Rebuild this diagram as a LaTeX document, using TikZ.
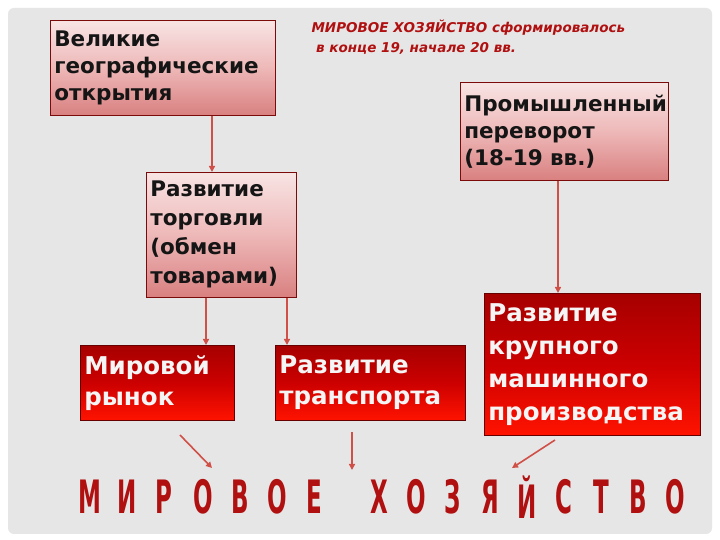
\documentclass[tikz,border=0pt]{standalone}
\usepackage{fontspec}
\setmainfont{DejaVu Sans}
\usetikzlibrary{arrows.meta}
\definecolor{bg}{HTML}{E6E6E6}
\definecolor{tred}{HTML}{B01010}
\definecolor{arr}{HTML}{D05048}
\definecolor{tx}{HTML}{151515}
\definecolor{ltop}{HTML}{F8E4E4}
\definecolor{lmid}{HTML}{EEB8B8}
\definecolor{lbot}{HTML}{D98080}
\tikzset{
 lightbox/.style={draw=tred!70!black,line width=0.6pt,top color=ltop,bottom color=lbot,middle color=lmid,inner sep=3pt,align=left,font=\fontsize{21.5}{27}\selectfont\bfseries,text=tx,anchor=north west},
 darkbox/.style={draw=red!40!black,line width=0.6pt,top color=red!65!black,bottom color=red!85!orange,middle color=red!80!black,inner sep=3pt,align=left,font=\fontsize{24.5}{31}\selectfont\bfseries,text=white!92!gray,anchor=north west},
 conn/.style={-{Triangle[length=6pt,width=6pt]},arr,line width=1.6pt},
 big/.style={font=\fontsize{46}{46}\selectfont\bfseries,text=tred,xscale=0.5}
}
\begin{document}
\begin{tikzpicture}[x=1pt,y=1pt]
\useasboundingbox (0,0) rectangle (720,540);
\fill[white] (0,0) rectangle (720,540);
\fill[bg,rounded corners=6pt] (8,6) rectangle (712,532);
\node[lightbox,minimum width=225,minimum height=95,text width=217] (a) at (50,520) {Великие\\географические\\открытия};
\node[lightbox,minimum width=208,minimum height=98,text width=200] (b) at (460,458) {Промышленный\\переворот\\(18-19 вв.)};
\node[lightbox,minimum width=150,minimum height=125,text width=142,font=\fontsize{21.5}{29}\selectfont\bfseries] (c) at (146,368) {Развитие\\торговли\\(обмен\\товарами)};
\node[darkbox,minimum width=154,minimum height=75,text width=146] (d) at (80,195) {Мировой\\рынок};
\node[darkbox,minimum width=190,minimum height=75,text width=182] (e) at (275,195) {Развитие\\транспорта};
\node[darkbox,minimum width=216,minimum height=142,text width=208,font=\fontsize{24.5}{33}\selectfont\bfseries] (f) at (484,247) {Развитие\\крупного\\машинного\\производства};
\node[anchor=north west,align=left,text=tred,font=\fontsize{13.5}{20}\selectfont\bfseries\itshape] (t) at (308,524) {МИРОВОЕ ХОЗЯЙСТВО сформировалось\\\ в конце 19, начале 20 вв.};
\draw[conn] (a.south -| 212,0) -- (c.north -| 212,0);
\draw[conn] (b.south -| 558,0) -- (f.north -| 558,0);
\draw[conn] (c.south -| 206,0) -- (d.north -| 206,0);
\draw[conn] (c.south -| 287,0) -- (e.north -| 287,0);
\coordinate (m1) at (212,72); \coordinate (m2) at (352,70); \coordinate (m3) at (512,72);
\draw[conn] (180,105) -- (m1);
\draw[conn] (352,108) -- (m2);
\draw[conn] (555,100) -- (m3);
\foreach \x/\l in {90/М,127/И,164/Р,203/О,240/В,277/О,314/Е,379/Х,416/О,453/З,490/Я,527/Й,564/С,601/Т,638/В,675/О}
  \node[big] at (\x,43) {\l};
\end{tikzpicture}
\end{document}
